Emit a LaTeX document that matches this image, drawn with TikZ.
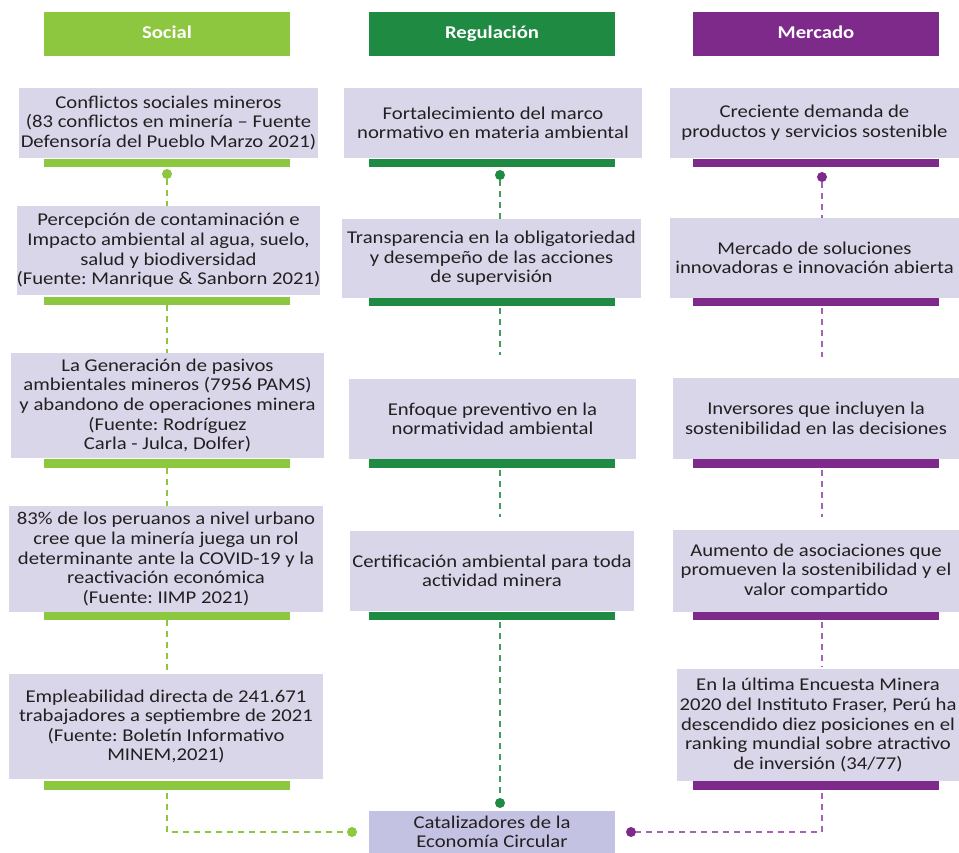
\documentclass[tikz,border=0pt]{standalone}
\usepackage{fontspec}
\setmainfont{Carlito}[FakeStretch=1.15]
\frenchspacing
\definecolor{lgreen}{HTML}{8DC63F}
\definecolor{dgreen}{HTML}{1F8A42}
\definecolor{purp}{HTML}{7E2A8B}
\definecolor{lpurp}{HTML}{A763B3}
\definecolor{boxfill}{HTML}{DAD6EA}
\definecolor{catfill}{HTML}{C4C2E2}
\definecolor{txt}{HTML}{231F20}
\begin{document}
\begin{tikzpicture}[x=1pt,y=-1pt,
  box/.style={fill=boxfill, text=txt, align=center, inner sep=0pt, font=\frenchspacing\fontsize{18}{19.6}\selectfont},
  hdr/.style={minimum width=246pt, minimum height=44pt, inner sep=0pt, text height=12pt, text depth=2pt, text=white, font=\bfseries\fontsize{18}{18}\selectfont},
  bar/.style={minimum width=246pt, minimum height=8.5pt, inner sep=0pt},
  dot/.style={circle, inner sep=0pt, minimum size=10pt},
  conn/.style={dash pattern=on 6pt off 5pt, line width=1.3pt}]
\useasboundingbox (0,0) rectangle (959,853);

% ---------- Social ----------
\node[hdr, fill=lgreen] (sh) at (167,34) {Social};
\node[box, minimum width=299pt, minimum height=70pt] (s1) at (168.5,123) {Conflictos sociales mineros\\(83 conflictos en minería – Fuente\\Defensoría del Pueblo Marzo 2021)};
\node[bar, fill=lgreen] (s1b) at (167,163) {};
\node[dot, fill=lgreen] (s1d) at (167,174) {};
\node[box, minimum width=299pt, minimum height=89pt] (s2) at (168.5,250.5) {Percepción de contaminación e\\Impacto ambiental al agua, suelo,\\salud y biodiversidad\\(Fuente: Manrique \& Sanborn 2021)};
\node[bar, fill=lgreen] (s2b) at (167,301) {};
\node[box, minimum width=313pt, minimum height=105pt] (s3) at (167.5,405.5) {La Generación de pasivos\\ambientales mineros (7956 PAMS)\\y abandono de operaciones minera\\(Fuente: Rodríguez\\Carla - Julca, Dolfer)};
\node[bar, fill=lgreen] (s3b) at (167,463.5) {};
\node[box, minimum width=314pt, minimum height=106pt] (s4) at (166,559) {83\% de los peruanos a nivel urbano\\cree que la minería juega un rol\\determinante ante la COVID-19 y la\\reactivación económica\\(Fuente: IIMP 2021)};
\node[bar, fill=lgreen] (s4b) at (167,616) {};
\node[box, minimum width=314pt, minimum height=105pt] (s5) at (166,726.5) {Empleabilidad directa de 241.671\\trabajadores a septiembre de 2021\\(Fuente: Boletín Informativo\\MINEM,2021)};
\node[bar, fill=lgreen] (s5b) at (167,785.5) {};

% ---------- Regulación ----------
\node[hdr, fill=dgreen] (rh) at (492,34) {Regulación};
\node[box, minimum width=298pt, minimum height=70pt] (r1) at (493,123) {Fortalecimiento del marco\\normativo en materia ambiental};
\node[bar, fill=dgreen] (r1b) at (492,163) {};
\node[dot, fill=dgreen] (r1d) at (500,175) {};
\node[box, minimum width=299pt, minimum height=79pt] (r2) at (491.5,258.5) {Transparencia en la obligatoriedad\\y desempeño de las acciones\\de supervisión};
\node[bar, fill=dgreen] (r2b) at (492,302) {};
\node[box, minimum width=287pt, minimum height=80pt] (r3) at (492.5,419) {Enfoque preventivo en la\\normatividad ambiental};
\node[bar, fill=dgreen] (r3b) at (492,463.5) {};
\node[box, minimum width=284pt, minimum height=80pt] (r4) at (492,571) {Certificación ambiental para toda\\actividad minera};
\node[bar, fill=dgreen] (r4b) at (492,616) {};
\node[dot, fill=dgreen] (r4d) at (500,803) {};
\node[box, fill=catfill, minimum width=246pt, minimum height=42pt] (cat) at (492,832) {Catalizadores de la\\Economía Circular};

% ---------- Mercado ----------
\node[hdr, fill=purp] (mh) at (816,34) {Mercado};
\node[box, minimum width=289pt, minimum height=70pt] (m1) at (814.5,123) {Creciente demanda de\\productos y servicios sostenible};
\node[bar, fill=purp] (m1b) at (816,163) {};
\node[dot, fill=purp] (m1d) at (822,177) {};
\node[box, minimum width=289pt, minimum height=80pt] (m2) at (814.5,258) {Mercado de soluciones\\innovadoras e innovación abierta};
\node[bar, fill=purp] (m2b) at (816,302) {};
\node[box, minimum width=286pt, minimum height=81pt] (m3) at (816,418.5) {Inversores que incluyen la\\sostenibilidad en las decisiones};
\node[bar, fill=purp] (m3b) at (816,463.5) {};
\node[box, minimum width=286pt, minimum height=82pt] (m4) at (816,571) {Aumento de asociaciones que\\promueven la sostenibilidad y el\\valor compartido};
\node[bar, fill=purp] (m4b) at (816,616) {};
\node[box, minimum width=282pt, minimum height=112pt] (m5) at (818,725) {En la última Encuesta Minera\\2020 del Instituto Fraser, Perú ha\\descendido diez posiciones en el\\ranking mundial sobre atractivo\\de inversión (34/77)};
\node[bar, fill=purp] (m5b) at (816,785.5) {};

% ---------- connectors ----------
\begin{scope}[lgreen]
\draw[conn] (s1d) -- (s2.north -| s1d);
\draw[conn] (s2b.south -| s1d) -- (s3.north -| s1d);
\draw[conn] (s3b.south -| s1d) -- (s4.north -| s1d);
\draw[conn] (s4b.south -| s1d) -- (s5.north -| s1d);
\node[dot, fill=lgreen] (s5d) at (352,832) {};
\draw[conn, shorten <=3pt] (s5b.south -| s1d) |- (s5d);
\end{scope}

\begin{scope}[dgreen!85!white]
\draw[conn] (r1d) -- (r2.north -| r1d);
\draw[conn, shorten <=2pt, shorten >=24pt] (r2b.south -| r1d) -- (r3.north -| r1d);
\draw[conn, shorten <=2pt, shorten >=14pt] (r3b.south -| r1d) -- (r4.north -| r1d);
\draw[conn, shorten <=2pt] (r4b.south -| r1d) -- (r4d);
\end{scope}

\begin{scope}[lpurp]
\draw[conn] (m1d) -- (m2.north -| m1d);
\draw[conn, shorten <=2pt, shorten >=21pt] (m2b.south -| m1d) -- (m3.north -| m1d);
\draw[conn, shorten <=2pt, shorten >=13pt] (m3b.south -| m1d) -- (m4.north -| m1d);
\draw[conn, shorten <=2pt, shorten >=2pt] (m4b.south -| m1d) -- (m5.north -| m1d);
\node[dot, fill=purp] (m5d) at (631,832) {};
\draw[conn, shorten <=3pt] (m5b.south -| m1d) |- (m5d);
\end{scope}
\end{tikzpicture}
\end{document}
